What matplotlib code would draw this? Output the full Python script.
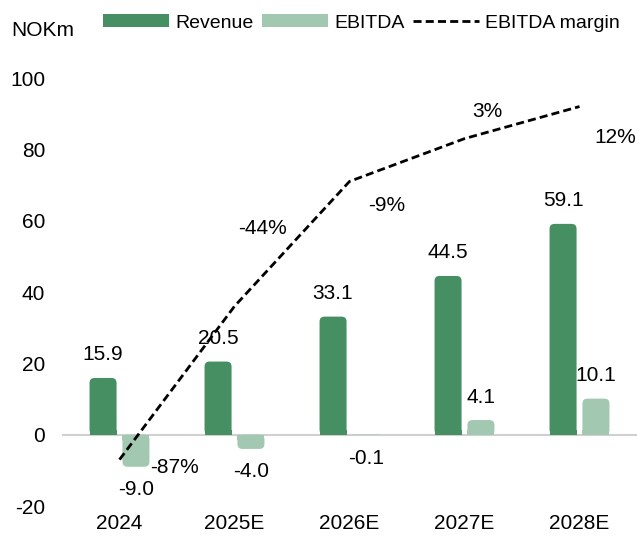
import matplotlib
matplotlib.use("Agg")
import matplotlib.pyplot as plt
from matplotlib.patches import FancyBboxPatch, Patch
from matplotlib.lines import Line2D

plt.rcParams['font.family'] = ['Liberation Sans', 'DejaVu Sans']
plt.rcParams['font.size'] = 15
plt.rcParams['axes.unicode_minus'] = False

years = ['2024', '2025E', '2026E', '2027E', '2028E']
revenue = [15.9, 20.5, 33.1, 44.5, 59.1]
ebitda = [-9.0, -4.0, -0.1, 4.1, 10.1]
margin = [-87, -44, -9, 3, 12]  # EBITDA margin, %

c_rev = '#458f63'
c_ebit = '#a2c8b1'
dash = (0, (2.9, 1.5))

fig = plt.figure(figsize=(6.37, 5.44), dpi=100)
ax = fig.add_axes([62 / 637, 38 / 544, 575 / 637, 428 / 544])
ax.set_xlim(-0.5, len(years) - 0.5)
ax.set_ylim(-20, 100)

# pixel size of one data unit, for the rounded bar tips
px_x = 575 / (len(years))
px_y = 428 / 120.0
r_px = 5.0
aspect = px_x / px_y


def rounded_bar(x, h, w, color):
    if h == 0:
        return
    rx = r_px / px_x
    ry = r_px / px_y
    bottom = min(0, h)
    hh = abs(h)
    rr = min(rx, w / 2, hh / aspect / 2)
    ax.add_patch(FancyBboxPatch((x - w / 2, bottom), w, hh,
                                boxstyle='round,pad=0,rounding_size=%f' % rr,
                                mutation_aspect=aspect, fc=color, ec='none', zorder=3))
    # square off the end at the baseline
    sq = min(ry, hh / 2)
    y0 = 0 if h > 0 else -sq
    ax.add_patch(plt.Rectangle((x - w / 2, y0), w, sq, fc=color, ec='none', zorder=3))


w = 0.235
off = 0.143
xs = list(range(len(years)))
for i in xs:
    rounded_bar(i - off, revenue[i], w, c_rev)
    rounded_bar(i + off, ebitda[i], w, c_ebit)
    ax.annotate('%.1f' % revenue[i], (i - off, revenue[i]), xytext=(0, 23),
                textcoords='offset pixels', ha='center', va='center', zorder=5)
    dy = 23 if ebitda[i] > 0 else -23
    ax.annotate('%.1f' % ebitda[i], (i + off, ebitda[i]), xytext=(0, dy),
                textcoords='offset pixels', ha='center', va='center', zorder=5)

ax.axhline(0, color='#d0d0d0', lw=1.5, zorder=2)

ax.set_xticks(xs)
ax.set_xticklabels(years)
ax.set_yticks(range(-20, 101, 20))
ax.tick_params(length=0, pad=12)
ax.tick_params(axis='x', pad=6)
for s in ax.spines.values():
    s.set_visible(False)

# margin on a hidden secondary axis
ax2 = ax.twinx()
ax2.set_ylim(-100, 20)
ax2.plot(xs, margin, color='black', ls=dash, lw=2, zorder=4)
ax2.axis('off')
lab_off = [(55, -8), (28, 78), (37, -24), (23, 27), (36, -31)]
for i in xs:
    ax2.annotate('%d%%' % margin[i], (i, margin[i]), xytext=lab_off[i],
                 textcoords='offset pixels', ha='center', va='center')

fig.text(11 / 637, 1 - 31 / 544, 'NOKm', ha='left', va='center')
handles = [Patch(fc=c_rev, ec='none'), Patch(fc=c_ebit, ec='none'),
           Line2D([], [], color='black', ls=dash, lw=2)]
fig.legend(handles, ['Revenue', 'EBITDA', 'EBITDA margin'], loc='center left',
           bbox_to_anchor=(103 / 637, 1 - 23 / 544), ncol=3, frameon=False,
           borderpad=0, borderaxespad=0,
           handlelength=3.4, handleheight=0.65, handletextpad=0.3,
           columnspacing=0.45, fontsize=14)

fig.savefig('out.png', dpi=100)
